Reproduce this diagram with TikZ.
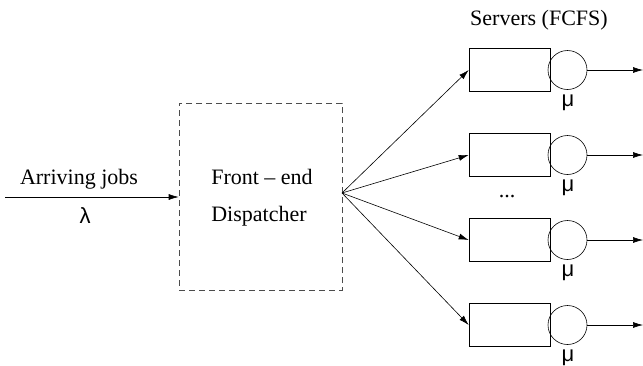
\documentclass[tikz,border=0pt]{standalone}
\usepackage{fontspec}
\setmainfont{Liberation Serif}
\newfontfamily\grk{Liberation Sans}
\usetikzlibrary{arrows.meta}
\begin{document}
\begin{tikzpicture}[x=1pt,y=-1pt,
  lbl/.style={font=\fontsize{22}{24}\selectfont, inner sep=0pt},
  gl/.style={font=\grk\fontsize{22}{24}\selectfont, inner sep=0pt},
  queue/.style={draw, line width=0.6pt, minimum width=81pt, minimum height=43pt, inner sep=0pt},
  srv/.style={draw, circle, line width=0.6pt, minimum size=39pt, inner sep=0pt},
  arr/.style={-{Latex[length=10pt,width=6pt]}, line width=0.6pt}]
\useasboundingbox (0,0) rectangle (643,365);
\node[draw, dash pattern=on 6pt off 4pt, gray!60!black, line width=0.6pt, minimum width=163pt, minimum height=187pt, inner sep=0pt] (disp) at (260.5,196.5) {};
\coordinate (src) at (5,197);
\coordinate (fan) at (342,193);
\draw[arr] (src) -- (src -| disp.west);
\node[lbl] (arrtxt) at (79,179) {Arriving jobs};
\node[gl] (lam) at (85,216) {λ};
\node[lbl] (fe) at (262,177) {Front -- end};
\node[lbl] (dt) at (259,216) {Dispatcher};
\node[lbl] (srvtxt) at (539,20) {Servers (FCFS)};
\foreach \i/\y in {1/70,2/155,3/240,4/325}{
  \node[queue] (q\i) at (509.5,\y) {};
  \node[srv] (s\i) at (567.5,\y) {};
  \coordinate (o\i) at (643,\y);
  \draw[arr] (s\i.east) -- (o\i);
  \draw[arr] (fan) -- (q\i.west);
  \node[gl, anchor=north] (mu\i) at (568,\y+25) {μ};
}
\node[lbl] (dots) at (507,197) {...};
\end{tikzpicture}
\end{document}
